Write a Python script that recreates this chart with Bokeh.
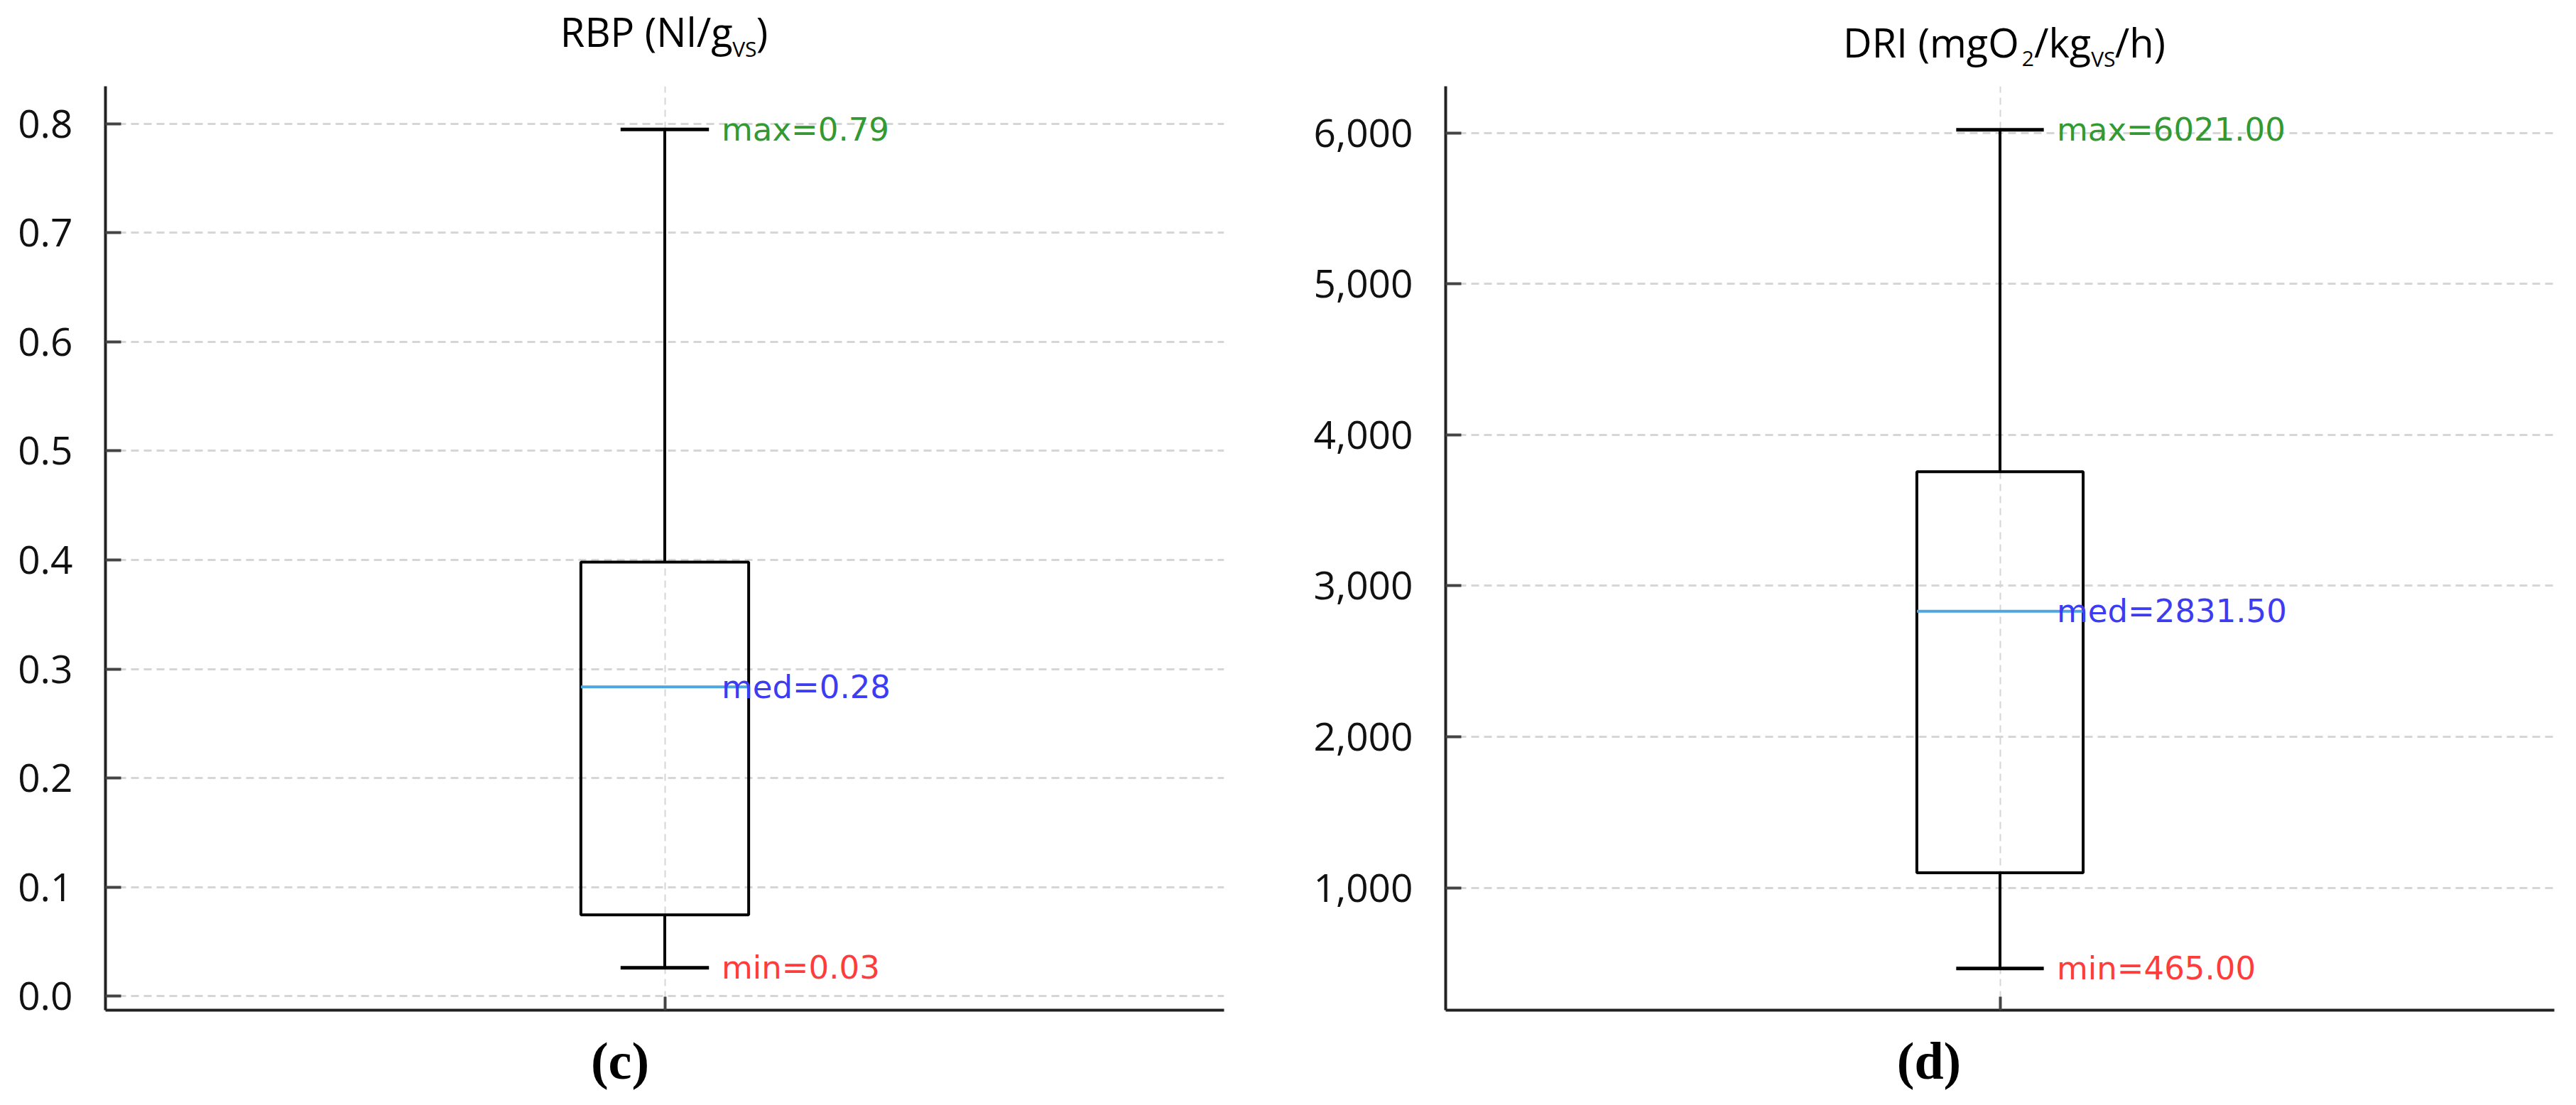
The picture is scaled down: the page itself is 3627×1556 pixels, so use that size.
from bokeh.plotting import figure
from bokeh.models import Range1d, FixedTicker, Label, NumeralTickFormatter, PrintfTickFormatter
from bokeh.layouts import row, column
from bokeh.embed import file_html
from bokeh.resources import INLINE

# ---------------- data ----------------
stat_names = ["min", "q1", "median", "q3", "max"]
rbp_values = [0.026, 0.0745, 0.2836, 0.398, 0.7948]
dri_values = [465.0, 1099.0, 2831.5, 3756.0, 6021.0]
rbp_ticks = [0.0, 0.1, 0.2, 0.3, 0.4, 0.5, 0.6, 0.7, 0.8]
dri_ticks = [1000, 2000, 3000, 4000, 5000, 6000]
rbp_title = [("RBP (Nl/g", False), ("VS", True), (")", False)]
dri_title = [("DRI (mgO", False), ("2", True), ("/kg", False), ("VS", True), ("/h)", False)]
panel_tags = ["(c)", "(d)"]

# approximate Open Sans advance widths (em), used to lay out the sub-scripted titles
CW = {" ": 0.26, "(": 0.295, ")": 0.295, "/": 0.364, "2": 0.572, "B": 0.633, "D": 0.734,
      "I": 0.32, "N": 0.751, "O": 0.779, "P": 0.59, "R": 0.631, "S": 0.536, "V": 0.58,
      "g": 0.545, "h": 0.614, "k": 0.525, "l": 0.258, "m": 0.93}

FIG_W = 1805
TITLE_H = 102
MAIN_H = 1345
TAG_H = 93


def text_w(s, size):
    return sum(CW.get(c, 0.57) for c in s) * size


def blank_fig(height, b_left, b_right, y_hi):
    f = figure(width=FIG_W, height=height, output_backend="svg", toolbar_location=None,
               x_range=Range1d(0, 2), y_range=Range1d(0, y_hi),
               x_axis_type=None, y_axis_type=None,
               min_border_left=b_left, min_border_right=b_right,
               min_border_top=0, min_border_bottom=0)
    f.outline_line_color = None
    f.background_fill_color = "white"
    f.border_fill_color = "white"
    return f


def make_panel(values, ticks, formatter, y_lo, y_hi, b_left, b_right, b_top, b_bottom,
               title_pieces, title_dx, title_mid, sub_mid, tag, tag_dx, tag_mid):
    frame_w = FIG_W - b_left - b_right
    ppu = frame_w / 2.0  # pixels per x unit

    p = figure(width=FIG_W, height=MAIN_H, output_backend="svg", toolbar_location=None,
               x_range=Range1d(0, 2), y_range=Range1d(y_lo, y_hi),
               min_border_left=b_left, min_border_right=b_right,
               min_border_top=b_top, min_border_bottom=b_bottom)
    p.outline_line_color = None
    p.background_fill_color = "white"
    p.border_fill_color = "white"

    # axes
    p.yaxis.ticker = FixedTicker(ticks=ticks)
    p.yaxis.formatter = formatter
    p.xaxis.ticker = FixedTicker(ticks=[1])
    p.xaxis.major_label_overrides = {1: ""}
    p.xaxis.major_label_text_font_size = "1px"
    p.xaxis.major_label_standoff = 0
    for ax in (p.xaxis, p.yaxis):
        ax.axis_line_width = 4
        ax.axis_line_color = "#222222"
        ax.major_tick_line_width = 4
        ax.major_tick_line_color = "#444444"
        ax.major_tick_out = 0
        ax.minor_tick_line_color = None
    p.yaxis.major_tick_in = 22
    p.xaxis.major_tick_in = 19
    p.yaxis.major_label_text_font = "Open Sans"
    p.yaxis.major_label_text_font_size = "55px"
    p.yaxis.major_label_text_color = "#111111"
    p.yaxis.major_label_standoff = 46

    # grid
    p.ygrid.grid_line_color = "#d6d6d6"
    p.ygrid.grid_line_width = 3
    p.ygrid.grid_line_dash = "11 7"
    p.xgrid.grid_line_color = "#d6d6d6"
    p.xgrid.grid_line_width = 2
    p.xgrid.grid_line_dash = "10 7"

    vmin, q1, med, q3, vmax = values
    cx = 1.0
    box_half = 0.15
    cap_half = 0.079

    # whiskers
    p.segment(x0=[cx, cx], y0=[vmin, q3], x1=[cx, cx], y1=[q1, vmax],
              line_color="black", line_width=4)
    # caps
    p.segment(x0=[cx - cap_half, cx - cap_half], y0=[vmin, vmax],
              x1=[cx + cap_half, cx + cap_half], y1=[vmin, vmax],
              line_color="black", line_width=5)
    # box
    p.quad(left=[cx - box_half], right=[cx + box_half], bottom=[q1], top=[q3],
           fill_alpha=0, line_color="black", line_width=4)
    # median
    p.segment(x0=[cx - box_half], y0=[med], x1=[cx + box_half], y1=[med],
              line_color="#4da6e0", line_width=4)

    # value annotations
    for v, lab, col in ((vmax, "max", "#339933"), (med, "med", "#3c3cf2"), (vmin, "min", "#ff3c3c")):
        p.add_layout(Label(x=cx, y=v, x_offset=80, text=f"{lab}={v:.2f}",
                           text_font="DejaVu Sans", text_font_size="45px", text_color=col,
                           text_align="left", text_baseline="middle"))

    # title figure (rich text with subscripts)
    t = blank_fig(TITLE_H, b_left, b_right, TITLE_H)
    size, sub_size = 56, 30
    widths = [text_w(s_, sub_size if sub else size) for s_, sub in title_pieces]
    start = -sum(widths) / 2 + title_dx
    for (s_, sub), w in zip(title_pieces, widths):
        t.add_layout(Label(x=cx + start / ppu, y=sub_mid if sub else title_mid,
                           text=s_, text_font="Open Sans",
                           text_font_size=f"{sub_size if sub else size}px",
                           text_color="black", text_align="left", text_baseline="middle"))
        start += w

    # panel tag figure
    b = blank_fig(TAG_H, b_left, b_right, TAG_H)
    b.add_layout(Label(x=cx + tag_dx / ppu, y=tag_mid, text=tag,
                       text_font="Liberation Serif", text_font_style="bold",
                       text_font_size="74px", text_color="black",
                       text_align="center", text_baseline="middle"))
    return t, p, b


t1, p1, b1 = make_panel(rbp_values, rbp_ticks, PrintfTickFormatter(format="%.1f"), -0.0129, 0.8344,
                        148, 82, 4, 25, rbp_title, -1, 59, 34, panel_tags[0], -63, 47)
t2, p2, b2 = make_panel(dri_values, dri_ticks, NumeralTickFormatter(format="0,0"), 189, 6309,
                        230, 14, 19, 20, dri_title, 6, 44, 20, panel_tags[1], -100, 47)

layout = column(row(t1, t2), row(p1, p2), row(b1, b2))
open("out.html", "w").write(file_html(layout, INLINE))
